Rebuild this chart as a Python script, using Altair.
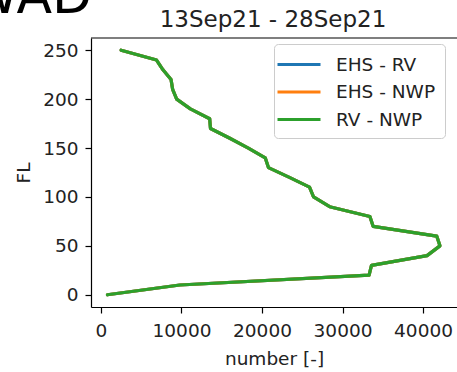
import altair as alt
import pandas as pd

# Flight level (FL) and counts
fl = [0, 10, 20, 30, 40, 50, 60, 70, 80, 90, 100, 110, 120, 130,
      140, 150, 160, 170, 180, 190, 200, 210, 220, 230, 240, 250]
rv_nwp = [800, 9800, 33300, 33600, 40500, 42100, 41700, 33800, 33400, 28400,
          26400, 25900, 23400, 20800, 20400, 18300, 16000, 13600, 13500, 11100,
          9400, 8900, 8700, 7700, 6900, 2500]
ehs_rv = list(rv_nwp)
ehs_nwp = list(rv_nwp)

series_names = ["EHS - RV", "EHS - NWP", "RV - NWP"]
series_colors = ["#1f77b4", "#ff7f0e", "#2ca02c"]
x_ticks = [0, 10000, 20000, 30000, 40000]
y_ticks = [0, 50, 100, 150, 200, 250]
title_text = ["13Sep21 - 28Sep21"]
corner_text = ["WAD"]

rows = []
for name, vals in zip(series_names, [ehs_rv, ehs_nwp, rv_nwp]):
    for f, v in zip(fl, vals):
        rows.append({"series": name, "FL": f, "number": v})
df = pd.DataFrame(rows)

FONT = "DejaVu Sans"
W, H = 366, 269

color = alt.Color(
    "series:N",
    scale=alt.Scale(domain=series_names, range=series_colors),
    legend=alt.Legend(
        title=None, orient="none", legendX=183, legendY=6,
        fillColor="white", strokeColor="#cccccc", cornerRadius=4, padding=9,
        symbolType="M-1.7,0H2.6", symbolSize=400, symbolStrokeWidth=2.8,
        labelFontSize=18.5, labelFont=FONT, labelColor="#222222",
        labelOffset=30, rowPadding=6.5,
    ),
)
x = alt.X(
    "number:Q",
    scale=alt.Scale(domain=[-1240, 44220], nice=False, zero=False),
    axis=alt.Axis(values=x_ticks, format="d", title="number [-]", grid=False,
                  labelFontSize=18.5, labelFont=FONT, labelColor="#222222",
                  titleFontSize=18.5, titleFont=FONT, titleColor="#222222",
                  titleFontWeight="normal", domainColor="black", domainWidth=1.2,
                  tickColor="black", tickWidth=1.2, tickSize=6, labelPadding=8,
                  titlePadding=10, labelFlush=False),
)
y = alt.Y(
    "FL:Q",
    scale=alt.Scale(domain=[-12.5, 262.5], nice=False, zero=False),
    axis=alt.Axis(values=y_ticks, title="FL", grid=False,
                  labelFontSize=18.5, labelFont=FONT, labelColor="#222222",
                  titleFontSize=18.5, titleFont=FONT, titleColor="#222222",
                  titleFontWeight="normal", domainColor="black", domainWidth=1.2,
                  tickColor="black", tickWidth=1.2, tickSize=6, labelPadding=7,
                  titlePadding=9, labelFlush=False),
)

layers = []
for name in series_names:
    layers.append(
        alt.Chart(df)
        .transform_filter(alt.datum.series == name)
        .mark_line(strokeWidth=3.2, strokeJoin="round", strokeCap="round")
        .encode(x=x, y=y, color=color, order=alt.Order("FL:Q"))
    )

top_spine = alt.Chart(pd.DataFrame({"a": [0]})).mark_rule(
    color="black", strokeWidth=1.2
).encode(x=alt.value(0), x2=alt.value(W), y=alt.value(0))

title_mark = alt.Chart(pd.DataFrame({"t": title_text})).mark_text(
    fontSize=23, font=FONT, align="center", baseline="alphabetic", color="#222222"
).encode(text="t:N", x=alt.value(182), y=alt.value(-11.5))

corner = alt.Chart(pd.DataFrame({"t": corner_text})).mark_text(
    fontSize=52, font=FONT, align="right", baseline="alphabetic", color="black"
).encode(text="t:N", x=alt.value(1), y=alt.value(-25))

chart = alt.layer(*layers, top_spine, title_mark, corner).properties(
    width=W, height=H,
    autosize=alt.AutoSizeParams(type="none"),
    padding={"left": 91, "top": 38, "right": 0, "bottom": 65},
).configure_view(stroke="transparent")

chart.save("out.html", embed_options={"renderer": "svg", "actions": False})
